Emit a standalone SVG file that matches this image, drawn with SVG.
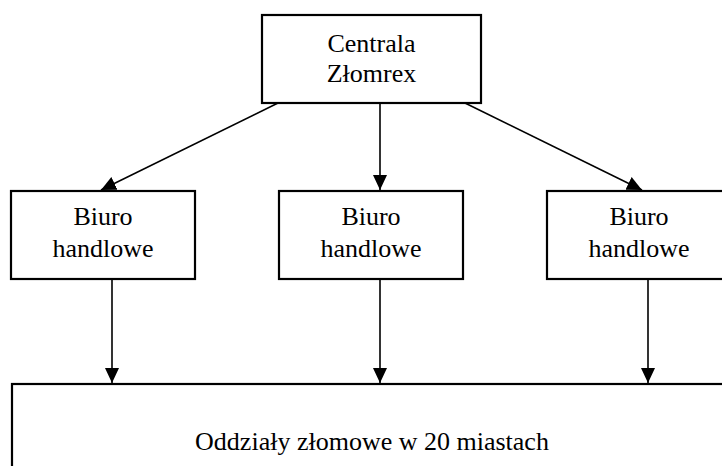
<svg xmlns="http://www.w3.org/2000/svg" width="722" height="466" viewBox="0 0 722 466">
<style>
.box{fill:#fff;stroke:#000;stroke-width:2.2}
.t{font-family:"Liberation Serif","Times New Roman",serif;font-size:26px;fill:#000;text-anchor:middle}
.c{stroke:#000;stroke-width:1.6;fill:none}
</style>
<defs>
<marker id="ah" markerUnits="userSpaceOnUse" markerWidth="16" markerHeight="16" viewBox="0 0 16 16" refX="15" refY="8" orient="auto">
<path d="M0,1 L15,8 L0,15 Z" fill="#000"/>
</marker>
</defs>
<rect width="722" height="466" fill="#fff"/>
<g id="connectors">
<line class="c" x1="278" y1="103" x2="101" y2="190" marker-end="url(#ah)"/>
<line class="c" x1="380" y1="103" x2="380" y2="190" marker-end="url(#ah)"/>
<line class="c" x1="465" y1="103" x2="642" y2="190" marker-end="url(#ah)"/>
<line class="c" x1="112" y1="279" x2="112" y2="383" marker-end="url(#ah)"/>
<line class="c" x1="380" y1="279" x2="380" y2="383" marker-end="url(#ah)"/>
<line class="c" x1="648" y1="279" x2="648" y2="383" marker-end="url(#ah)"/>
</g>
<g id="centrala">
<rect class="box" x="262" y="15" width="219" height="88"/>
<text class="t" x="371.5" y="52">Centrala</text>
<text class="t" x="371.5" y="82">Złomrex</text>
</g>
<g id="biuro1">
<rect class="box" x="11" y="191" width="184" height="88"/>
<text class="t" x="103" y="225">Biuro</text>
<text class="t" x="103" y="257">handlowe</text>
</g>
<g id="biuro2">
<rect class="box" x="279" y="191" width="184" height="88"/>
<text class="t" x="371" y="225">Biuro</text>
<text class="t" x="371" y="257">handlowe</text>
</g>
<g id="biuro3">
<rect class="box" x="547" y="191" width="184" height="88"/>
<text class="t" x="639" y="225">Biuro</text>
<text class="t" x="639" y="257">handlowe</text>
</g>
<g id="oddzialy">
<rect class="box" x="12" y="384" width="720" height="100"/>
<text class="t" x="372" y="450">Oddziały złomowe w 20 miastach</text>
</g>
</svg>
